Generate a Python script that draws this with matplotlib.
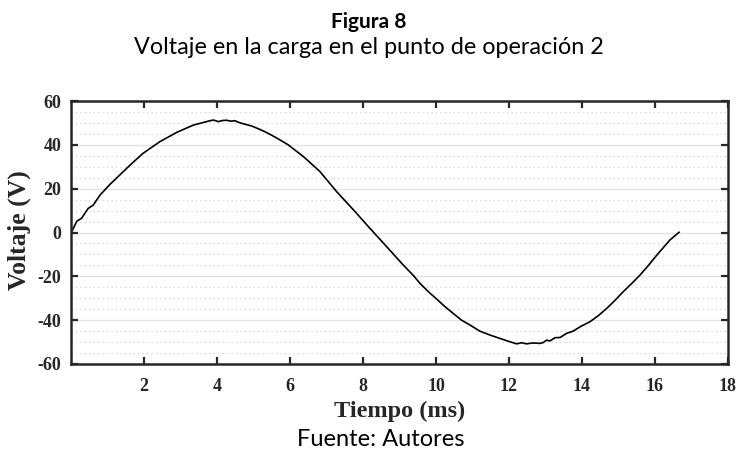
import matplotlib
matplotlib.use("Agg")
import matplotlib.pyplot as plt
from matplotlib.ticker import MultipleLocator

plt.rcParams["axes.unicode_minus"] = False

# Data (time in ms, voltage in V)
tiempo_ms = [0.0, 0.03, 0.16, 0.29, 0.47, 0.61, 0.79, 1.07, 1.34, 1.62, 1.98,
             2.44, 2.90, 3.35, 3.81, 3.90, 4.04, 4.15, 4.27, 4.38, 4.49, 4.60,
             4.68, 4.95, 5.18, 5.36, 5.54, 5.73, 5.95, 6.37, 6.82, 7.28, 7.74,
             8.19, 8.65, 9.10, 9.38, 9.56, 9.79, 10.02, 10.25, 10.47, 10.70,
             10.93, 11.20, 11.48, 11.94, 12.21, 12.35, 12.48, 12.66, 12.85,
             12.94, 13.03, 13.12, 13.26, 13.40, 13.58, 13.76, 13.95, 14.22,
             14.45, 14.68, 14.90, 15.13, 15.36, 15.59, 15.82, 16.05, 16.41,
             16.66]
voltaje_v = [0.0, 0.7, 5.2, 6.5, 11.0, 12.5, 17.0, 22.0, 26.3, 30.8, 36.2,
             41.5, 45.7, 49.0, 51.0, 51.3, 50.6, 51.1, 51.2, 50.8, 51.0, 50.2,
             49.8, 48.6, 47.0, 45.6, 44.0, 42.2, 40.0, 34.6, 27.8, 18.6, 10.3,
             1.9, -6.5, -14.8, -19.6, -23.2, -27.0, -30.4, -33.9, -36.9, -40.0,
             -42.2, -45.0, -46.8, -49.4, -50.8, -50.3, -50.8, -50.4, -50.6,
             -50.2, -49.1, -49.5, -48.0, -47.9, -46.0, -45.0, -43.0, -40.7,
             -37.9, -34.6, -31.0, -27.0, -23.3, -19.4, -15.0, -10.3, -3.4,
             0.1]

x_ticks = [2, 4, 6, 8, 10, 12, 14, 16, 18]
y_ticks = [-60, -40, -20, 0, 20, 40, 60]

titulo = "Figura 8"
subtitulo = "Voltaje en la carga en el punto de operación 2"
xlabel = "Tiempo (ms)"
ylabel = "Voltaje (V)"
fuente = "Fuente: Autores"

W, H = 738, 449
fig = plt.figure(figsize=(W / 100, H / 100), dpi=100)
ax = fig.add_axes([71 / W, 1 - 364 / H, (728 - 71) / W, (364 - 101) / H])

ax.plot(tiempo_ms, voltaje_v, color="black", linewidth=1.2)

ax.set_xlim(0, 18)
ax.set_ylim(-60, 60)
ax.set_xticks(x_ticks)
ax.set_yticks(y_ticks)
ax.yaxis.set_minor_locator(MultipleLocator(5))
ax.tick_params(axis="y", which="minor", length=0)

ax.grid(True, axis="y", which="major", color="#e3e3e3", linewidth=1.0, linestyle="-")
ax.grid(True, axis="y", which="minor", color="#c8c8c8", linewidth=0.8, linestyle=(0, (1, 3)))
ax.set_axisbelow(True)

serif = ["Liberation Serif", "DejaVu Serif"]
ax.tick_params(axis="both", which="major", direction="in", length=5, width=1.6,
               top=True, right=True, color="#262626")
for lab in ax.get_xticklabels() + ax.get_yticklabels():
    lab.set_fontfamily(serif)
    lab.set_fontweight("bold")
    lab.set_fontsize(13)
    lab.set_color("#262626")
ax.tick_params(axis="x", pad=10)
ax.tick_params(axis="y", pad=7)

for sp in ax.spines.values():
    sp.set_linewidth(1.8)
    sp.set_color("#262626")

fig.text(400 / W, 1 - 411 / H, xlabel, ha="center", va="center", family=serif,
         fontweight="bold", fontsize=17.5, color="#262626")
fig.text(19 / W, 1 - 230 / H, ylabel, ha="center", va="center", rotation=90,
         family=serif, fontweight="bold", fontsize=18.5, color="#262626")

sans = ["Lato", "DejaVu Sans"]
fig.text(369 / W, 1 - 22 / H, titulo, ha="center", va="center", family=sans,
         fontweight="bold", fontsize=15)
fig.text(369 / W, 1 - 48 / H, subtitulo, ha="center", va="center", family=sans,
         fontsize=16.8)
fig.text(381 / W, 1 - 439 / H, fuente, ha="center", va="center", family=sans,
         fontsize=17)

fig.savefig("out.png", dpi=100)
